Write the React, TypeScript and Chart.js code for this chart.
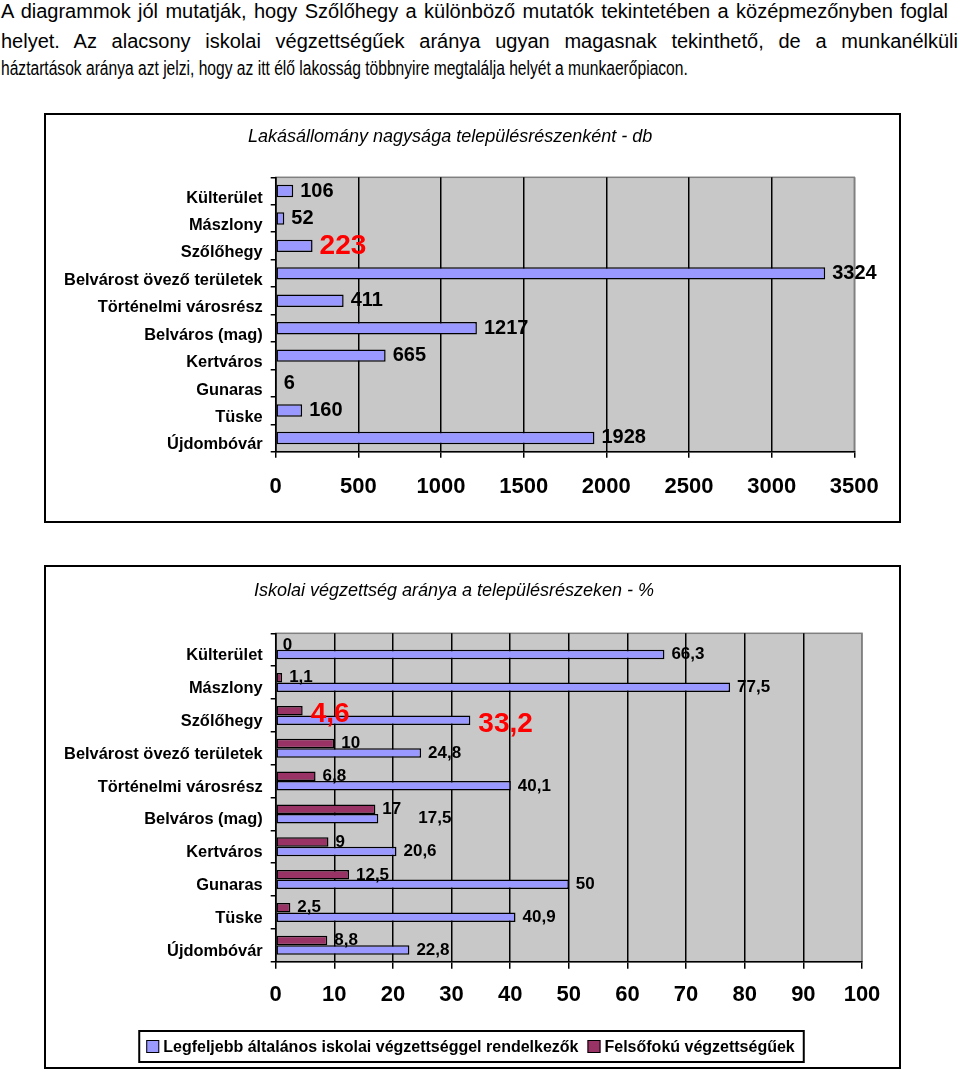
import React, { useEffect, useRef } from 'react';
import { Chart, registerables } from 'chart.js';

Chart.register(...registerables);

const FONT = "'Liberation Sans', Arial, Helvetica, sans-serif";
Chart.defaults.font.family = FONT;

// ---------- data ----------
const CATEGORIES = [
  'Külterület',
  'Mászlony',
  'Szőlőhegy',
  'Belvárost övező területek',
  'Történelmi városrész',
  'Belváros (mag)',
  'Kertváros',
  'Gunaras',
  'Tüske',
  'Újdombóvár',
];
const HOUSING = [106, 52, 223, 3324, 411, 1217, 665, 6, 160, 1928];
const BASIC_EDU = [66.3, 77.5, 33.2, 24.8, 40.1, 17.5, 20.6, 50, 40.9, 22.8];
const HIGHER_EDU = [0, 1.1, 4.6, 10, 6.8, 17, 9, 12.5, 2.5, 8.8];
const HIGHLIGHT_INDEX = 2; // Szőlőhegy

const HOUSING_AXIS = { min: 0, max: 3500, step: 500 };
const EDU_AXIS = { min: 0, max: 100, step: 10 };

const TITLE_1 = 'Lakásállomány nagysága településrészenként - db';
const TITLE_2 = 'Iskolai végzettség aránya a településrészeken - %';
const LABEL_BASIC = 'Legfeljebb általános iskolai végzettséggel rendelkezők';
const LABEL_HIGHER = 'Felsőfokú végzettségűek';

const INTRO_LINES = [
  'A diagrammok jól mutatják, hogy Szőlőhegy a különböző mutatók tekintetében a középmezőnyben foglal',
  'helyet. Az alacsony iskolai végzettségűek aránya ugyan magasnak tekinthető, de a munkanélküli',
  'háztartások aránya azt jelzi, hogy az itt élő lakosság többnyire megtalálja helyét a munkaerőpiacon.',
];

// ---------- styles ----------
const BLUE = '#9999FF';
const PLUM = '#993366';
const PLOT_BG = '#C8C8C8';

const plotBackground = {
  id: 'plotBackground',
  beforeDraw(chart: any) {
    const { ctx, chartArea: a } = chart;
    ctx.save();
    ctx.fillStyle = PLOT_BG;
    ctx.fillRect(a.left, a.top, a.right - a.left, a.bottom - a.top);
    ctx.strokeStyle = '#808080';
    ctx.lineWidth = 1.5;
    ctx.strokeRect(a.left, a.top, a.right - a.left, a.bottom - a.top);
    ctx.restore();
  },
};

const fmtHu = (v: number) => String(v).replace('.', ',');

function valueLabels(opts: {
  size: number;
  hlSize: number;
  gap: number;
  nudge?: (di: number, i: number) => [number, number];
}) {
  return {
    id: 'valueLabels',
    afterDatasetsDraw(chart: any) {
      const ctx = chart.ctx;
      chart.data.datasets.forEach((ds: any, di: number) => {
        const meta = chart.getDatasetMeta(di);
        meta.data.forEach((bar: any, i: number) => {
          const hl = i === HIGHLIGHT_INDEX;
          const [dx, dy] = opts.nudge ? opts.nudge(di, i) : [0, 0];
          ctx.save();
          ctx.font = `bold ${hl ? opts.hlSize : opts.size}px ${FONT}`;
          ctx.fillStyle = hl ? '#FF0000' : '#000000';
          ctx.textAlign = 'left';
          ctx.textBaseline = 'middle';
          ctx.fillText(fmtHu(ds.data[i]), bar.x + opts.gap + dx, bar.y + dy);
          ctx.restore();
        });
      });
    },
  };
}

const boxedLegend = {
  id: 'boxedLegend',
  afterDraw(chart: any) {
    const { ctx } = chart;
    const items = [
      { color: BLUE, text: LABEL_BASIC },
      { color: PLUM, text: LABEL_HIGHER },
    ];
    ctx.save();
    ctx.font = `bold 16px ${FONT}`;
    const sq = 13;
    const widths = items.map((it) => ctx.measureText(it.text).width);
    const padL = 7;
    const padR = 9;
    const gapSq = 4;
    const gapItem = 9;
    const total = padL + sq + gapSq + widths[0] + gapItem + sq + gapSq + widths[1] + padR;
    const top = 464;
    const h = 31;
    const left = chart.width / 2 - total / 2 - 1;
    ctx.strokeStyle = '#000';
    ctx.lineWidth = 2;
    ctx.strokeRect(left, top, total, h);
    let x = left + padL;
    const cy = top + h / 2;
    items.forEach((it, k) => {
      ctx.fillStyle = it.color;
      ctx.fillRect(x, cy - sq / 2, sq, sq);
      ctx.lineWidth = 1;
      ctx.strokeStyle = '#000';
      ctx.strokeRect(x + 0.5, cy - sq / 2 + 0.5, sq - 1, sq - 1);
      x += sq + gapSq;
      ctx.fillStyle = '#000';
      ctx.textAlign = 'left';
      ctx.textBaseline = 'middle';
      ctx.fillText(it.text, x, cy + 1);
      x += widths[k] + gapItem;
    });
    ctx.restore();
  },
};

function gridColor(max: number) {
  return (c: any) => (c.tick && c.tick.value === max ? '#808080' : '#000000');
}

const plainTick = (v: any) => String(v);

function makeHousingConfig(): any {
  return {
    type: 'bar',
    data: {
      labels: CATEGORIES,
      datasets: [
        {
          label: 'Lakások',
          data: HOUSING,
          backgroundColor: BLUE,
          borderColor: '#000',
          borderWidth: 1.5,
          borderSkipped: false,
          categoryPercentage: 0.45,
          barPercentage: 1,
        },
      ],
    },
    options: {
      indexAxis: 'y',
      responsive: false,
      animation: false,
      devicePixelRatio: 1,
      layout: { padding: { left: 0, right: 44.7, top: 0, bottom: 0 } },
      plugins: {
        legend: { display: false },
        tooltip: { enabled: false },
        title: {
          display: true,
          text: TITLE_1,
          color: '#000',
          font: { family: FONT, size: 18, style: 'italic', weight: 'normal' },
          padding: { top: 11.2, bottom: 29.5 },
        },
      },
      scales: {
        x: {
          min: HOUSING_AXIS.min,
          max: HOUSING_AXIS.max,
          ticks: {
            stepSize: HOUSING_AXIS.step,
            callback: plainTick,
            color: '#000',
            font: { size: 22, weight: 'bold' },
            padding: 15.8,
            maxRotation: 0,
            autoSkip: false,
          },
          grid: {
            color: gridColor(HOUSING_AXIS.max),
            tickColor: '#000',
            lineWidth: 1.5,
            tickLength: 6,
          },
          border: { display: true, color: '#000', width: 1.5 },
          afterFit: (s: any) => {
            s.height = 69.3;
          },
        },
        y: {
          ticks: {
            color: '#000',
            font: { size: 16.4, weight: 'bold' },
            padding: 8,
            labelOffset: 7,
            autoSkip: false,
          },
          grid: { drawOnChartArea: false, color: '#000', lineWidth: 1.5, tickLength: 5 },
          border: { display: true, color: '#000', width: 1.5 },
          afterFit: (s: any) => {
            s.width = 229.7;
          },
        },
      },
    },
    plugins: [plotBackground, valueLabels({ size: 20, hlSize: 28, gap: 7 })],
  };
}

function makeEduConfig(): any {
  return {
    type: 'bar',
    data: {
      labels: CATEGORIES,
      datasets: [
        {
          label: LABEL_HIGHER,
          data: HIGHER_EDU,
          backgroundColor: PLUM,
          borderColor: '#000',
          borderWidth: 1.5,
          borderSkipped: false,
          categoryPercentage: 0.58,
          barPercentage: 1,
        },
        {
          label: LABEL_BASIC,
          data: BASIC_EDU,
          backgroundColor: BLUE,
          borderColor: '#000',
          borderWidth: 1.5,
          borderSkipped: false,
          categoryPercentage: 0.58,
          barPercentage: 1,
        },
      ],
    },
    options: {
      indexAxis: 'y',
      responsive: false,
      animation: false,
      devicePixelRatio: 1,
      layout: { padding: { left: 0, right: 37, top: 0, bottom: 55.3 } },
      plugins: {
        legend: { display: false },
        tooltip: { enabled: false },
        title: {
          display: true,
          text: TITLE_2,
          color: '#000',
          font: { family: FONT, size: 18, style: 'italic', weight: 'normal' },
          padding: { top: 13.2, bottom: 31.5 },
        },
      },
      scales: {
        x: {
          min: EDU_AXIS.min,
          max: EDU_AXIS.max,
          ticks: {
            stepSize: EDU_AXIS.step,
            callback: plainTick,
            color: '#000',
            font: { size: 22, weight: 'bold' },
            padding: 13.1,
            maxRotation: 0,
            autoSkip: false,
          },
          grid: {
            color: gridColor(EDU_AXIS.max),
            tickColor: '#000',
            lineWidth: 1.5,
            tickLength: 7,
          },
          border: { display: true, color: '#000', width: 1.5 },
          afterFit: (s: any) => {
            s.height = 50;
          },
        },
        y: {
          ticks: {
            color: '#000',
            font: { size: 16.4, weight: 'bold' },
            padding: 8,
            labelOffset: 6,
            autoSkip: false,
          },
          grid: { drawOnChartArea: false, color: '#000', lineWidth: 1.5, tickLength: 5 },
          border: { display: true, color: '#000', width: 1.5 },
          afterFit: (s: any) => {
            s.width = 229.7;
          },
        },
      },
    },
    plugins: [
      plotBackground,
      valueLabels({
        size: 17,
        hlSize: 28,
        gap: 7,
        nudge: (di, i) => {
          if (di === 1 && i === 5) return [33, 0];
          if (i === HIGHLIGHT_INDEX) return [1, 4];
          return [0, 0];
        },
      }),
      boxedLegend,
    ],
  };
}

function ChartCanvas({ width, height, make }: { width: number; height: number; make: () => any }) {
  const ref = useRef<HTMLCanvasElement | null>(null);
  useEffect(() => {
    if (!ref.current) return;
    const chart = new Chart(ref.current, make());
    return () => chart.destroy();
  }, []);
  return <canvas ref={ref} width={width} height={height} style={{ display: 'block', width, height }} />;
}

// per-line horizontal squeeze of the intro paragraph (as in the source page)
const LINE_SCALES = [1, 1, 0.78];
const LINE_TOPS = [-1, 29, 56];
const LINE_WIDTHS = [948, 958, 0];

export default function App() {
  useEffect(() => {
    document.body.style.margin = '0';
  }, []);
  return (
    <div
      style={{
        position: 'absolute',
        left: 0,
        top: 0,
        width: 960,
        height: 1074,
        background: '#fff',
        overflow: 'hidden',
        fontFamily: FONT,
        color: '#000',
      }}
    >
      {INTRO_LINES.map((line, k) => (
        <div
          key={k}
          style={{
            position: 'absolute',
            left: 1,
            top: LINE_TOPS[k],
            width: LINE_WIDTHS[k] ? (LINE_WIDTHS[k] - 1) / LINE_SCALES[k] : 1300,
            fontSize: 20,
            lineHeight: '24px',
            textAlign: k < 2 ? 'justify' : 'left',
            textAlignLast: k < 2 ? 'justify' : 'left',
            transform: `scaleX(${LINE_SCALES[k]})`,
            transformOrigin: '0 0',
          } as React.CSSProperties}
        >
          {line}
        </div>
      ))}
      <div
        style={{
          position: 'absolute',
          left: 44,
          top: 113,
          width: 857,
          height: 410,
          border: '2px solid #000',
          boxSizing: 'border-box',
        }}
      >
        <ChartCanvas width={853} height={406} make={makeHousingConfig} />
      </div>
      <div
        style={{
          position: 'absolute',
          left: 44,
          top: 565,
          width: 857,
          height: 504,
          border: '2px solid #000',
          boxSizing: 'border-box',
        }}
      >
        <ChartCanvas width={853} height={500} make={makeEduConfig} />
      </div>
    </div>
  );
}
